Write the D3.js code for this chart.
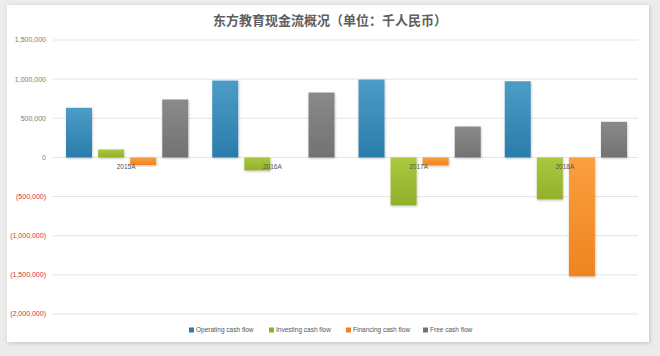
<!DOCTYPE html>
<html><head><meta charset="utf-8">
<script src="https://cdn.jsdelivr.net/npm/d3@7"></script>
<style>
html,body{margin:0;padding:0;background:#ececec;}
svg{display:block;}
</style></head>
<body>
<script>
const categories = ["2015A","2016A","2017A","2018A"];
const seriesNames = ["Operating cash flow","Investing cash flow","Financing cash flow","Free cash flow"];
const operating = [634000, 982000, 995000, 973000];
const investing = [102000, -166000, -612000, -536000];
const financing = [-98000, 0, -102000, -1518000];
const freeCash = [740000, 829000, 395000, 455000];
const yTicks = [1500000,1000000,500000,0,-500000,-1000000,-1500000,-2000000];
const title = "东方教育现金流概况（单位：千人民币）";

const seriesValues = [operating, investing, financing, freeCash];
const colors = [["#4d9cc8","#2a7cab"],["#aac83f","#93b02a"],["#fb9f3e","#ee8420"],["#8a8a8a","#727272"]];

const W = 660, H = 356;
const svg = d3.select("body").append("svg").attr("width", W).attr("height", H);
const defs = svg.append("defs");
const f = defs.append("filter").attr("id","cardShadow").attr("x","-5%").attr("y","-5%").attr("width","110%").attr("height","110%");
f.append("feDropShadow").attr("dx",1).attr("dy",1).attr("stdDeviation",2).attr("flood-color","#000").attr("flood-opacity",0.18);
const fb = defs.append("filter").attr("id","barShadow").attr("x","-20%").attr("y","-20%").attr("width","140%").attr("height","140%");
fb.append("feDropShadow").attr("dx",0.5).attr("dy",1).attr("stdDeviation",0.8).attr("flood-color","#000").attr("flood-opacity",0.25);
colors.forEach((c,i)=>{
  const g = defs.append("linearGradient").attr("id","grad"+i).attr("x1",0).attr("y1",0).attr("x2",0).attr("y2",1);
  g.append("stop").attr("offset","0%").attr("stop-color",c[0]);
  g.append("stop").attr("offset","100%").attr("stop-color",c[1]);
});

svg.append("rect").attr("x",7).attr("y",5).attr("width",642).attr("height",337).attr("fill","#fff").attr("filter","url(#cardShadow)");

const plot = {left:53, right:638};
const y = d3.scaleLinear().domain([-2000000,1500000]).range([314,40]);
const x0 = d3.scaleBand().domain(categories).range([plot.left, plot.right]).paddingInner(0).paddingOuter(0);
const x1 = d3.scaleBand().domain(seriesNames).range([13, x0.bandwidth()-11]).paddingInner(0.19).paddingOuter(0);

// gridlines
svg.append("g").selectAll("line").data(yTicks).join("line")
  .attr("x1",plot.left).attr("x2",plot.right)
  .attr("y1",d=>y(d)).attr("y2",d=>y(d))
  .attr("stroke","#e4e4e4").attr("stroke-width",1);

const fmt = d3.format(",");
svg.append("g").selectAll("text").data(yTicks).join("text")
  .attr("x",46).attr("y",d=>y(d)).attr("dy","0.35em")
  .attr("text-anchor","end")
  .attr("font-family","Liberation Sans, Arial, sans-serif").attr("font-size",7)
  .attr("fill",d=>d<0?"#d2303c":"#7a7a7a")
  .text(d=> d<0 ? "("+fmt(-d)+")" : fmt(d));

// bars
const groups = svg.append("g").selectAll("g").data(categories).join("g")
  .attr("transform",d=>`translate(${x0(d)},0)`);
groups.selectAll("rect").data((c,ci)=>seriesNames.map((s,si)=>({s,si,v:seriesValues[si][ci]})).filter(d=>d.v!==0)).join("rect")
  .attr("x",d=>x1(d.s)).attr("width",x1.bandwidth())
  .attr("y",d=>y(Math.max(0,d.v))).attr("height",d=>Math.abs(y(d.v)-y(0)))
  .attr("fill",d=>`url(#grad${d.si})`)
  .attr("filter","url(#barShadow)");

// category labels
svg.append("g").selectAll("text").data(categories).join("text")
  .attr("x",d=>x0(d)+x0.bandwidth()/2).attr("y",y(0)+12)
  .attr("text-anchor","middle")
  .attr("font-family","Liberation Sans, Arial, sans-serif").attr("font-size",6.5)
  .attr("fill","#555")
  .text(d=>d);

// title
svg.append("text").attr("x",330).attr("y",25).attr("text-anchor","middle")
  .attr("font-family","Noto Sans CJK SC, sans-serif").attr("font-size",13).attr("font-weight","bold")
  .attr("fill","#5e5e5e").text(title);

// legend
const legendX = [189, 269, 346, 423];
const lg = svg.append("g").selectAll("g").data(seriesNames).join("g")
  .attr("transform",(d,i)=>`translate(${legendX[i]},330)`);
lg.append("rect").attr("x",0).attr("y",-2.5).attr("width",5).attr("height",5).attr("fill",(d,i)=>colors[i][1]);
lg.append("text").attr("x",7).attr("y",0).attr("dy","0.35em")
  .attr("font-family","Liberation Sans, Arial, sans-serif").attr("font-size",6.5).attr("fill","#555").text(d=>d);
</script>
</body></html>
